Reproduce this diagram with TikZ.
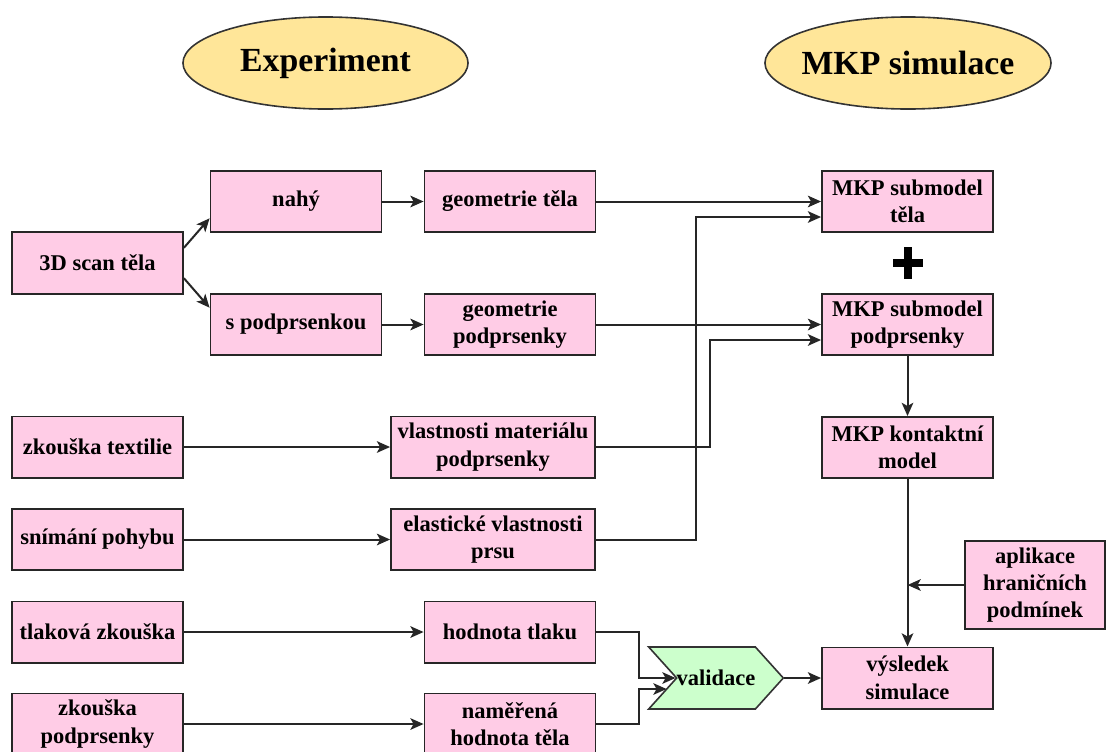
\documentclass[tikz,border=0pt]{standalone}
\usepackage{fontspec}
\setmainfont{Liberation Serif}
\usetikzlibrary{shapes.geometric,shapes.symbols,arrows.meta,calc}
\definecolor{boxpink}{HTML}{FFCCE6}
\definecolor{ovalyellow}{HTML}{FFE699}
\definecolor{valgreen}{HTML}{CCFFCC}

\tikzset{
  stepbox/.style={draw=black!85, line width=0.045cm, fill=boxpink, align=center,
    minimum width=4.275cm, minimum height=1.53cm, inner sep=1pt,
    font=\bfseries\fontsize{16}{19.5}\selectfont},
  widebox/.style={stepbox, minimum width=5.1cm},
  headoval/.style={ellipse, draw=black!80, line width=0.04cm, fill=ovalyellow,
    minimum width=7.125cm, minimum height=2.3cm, inner xsep=-0.2cm, inner ysep=0pt,
    font=\bfseries\fontsize{24}{28}\selectfont},
  arr/.style={line width=0.05cm, draw=black!85,
    -{Stealth[length=0.33cm,width=0.29cm,inset=0.08cm]}}
}

\begin{document}
\begin{tikzpicture}[x=0.025cm, y=-0.025cm]
\useasboundingbox (0,0) rectangle (1108,751);

% headings
\node[headoval] (exper) at (325.5,63) {Experiment};
\node[headoval, minimum width=7.15cm] (mkpsim) at (908,63) {MKP simulace};

% experiment side
\node[stepbox] (scan) at (97.5,263) {3D scan těla};
\node[stepbox] (nahy) at (296,201.5) {nahý};
\node[stepbox] (spodpr) at (296,324.5) {s podprsenkou};
\node[stepbox] (geomtela) at (510,201.5) {geometrie těla};
\node[stepbox] (geompodpr) at (510,324.5) {geometrie\\podprsenky};

\node[stepbox] (textil) at (97.5,447) {zkouška textilie};
\node[stepbox] (pohyb) at (97.5,539.5) {snímání pohybu};
\node[stepbox] (tlak) at (97.5,632) {tlaková zkouška};
\node[stepbox] (zkpodpr) at (97.5,724) {zkouška\\podprsenky};

\node[widebox] (vlastmat) at (493,447) {vlastnosti materiálu\\podprsenky};
\node[widebox] (elast) at (493,539.5) {elastické vlastnosti\\prsu};
\node[stepbox] (hodtlak) at (510,632) {hodnota tlaku};
\node[stepbox] (namer) at (510,724) {naměřená\\hodnota těla};

% simulation side
\node[stepbox] (subtela) at (907.5,201.5) {MKP submodel\\těla};
\node[stepbox] (subpodpr) at (907.5,324.5) {MKP submodel\\podprsenky};
\node[stepbox] (kontakt) at (907.5,447.5) {MKP kontaktní\\model};
\node[stepbox] (vysledek) at (907.5,678) {výsledek\\simulace};
\node[stepbox, minimum width=3.5cm, minimum height=2.2cm] (aplikace) at (1035,585)
  {aplikace\\hraničních\\podmínek};

\node[signal, signal to=east, signal from=west, signal pointer angle=96,
  draw=black!80, line width=0.04cm, fill=valgreen, minimum width=3.0cm,
  minimum height=1.55cm, inner sep=0pt,
  font=\bfseries\fontsize{16}{19.5}\selectfont] (validace) at (716,678) {validace};

% plus
\draw[line width=0.2cm] (893,263) -- (923,263) (908,247) -- (908,279);

% connectors
\draw[arr] (scan.10) -- (nahy.191);
\draw[arr] (scan.-10) -- (spodpr.169);
\draw[arr] (nahy) -- (geomtela);
\draw[arr] (spodpr) -- (geompodpr);
\draw[arr] (geomtela) -- (subtela);
\draw[arr] (geompodpr) -- (subpodpr);
\draw[arr] (elast.east) -- ++(100,0) |- ($(subtela.west)+(0,15.5)$);
\draw[arr] (vlastmat.east) -- ++(114,0) |- ($(subpodpr.west)+(0,15.5)$);
\draw[arr] (textil) -- (vlastmat);
\draw[arr] (pohyb) -- (elast);
\draw[arr] (tlak) -- (hodtlak);
\draw[arr] (zkpodpr) -- (namer);
\draw[arr] (hodtlak.east) -- ++(43,0) |- (validace.west);
\draw[arr] (namer.east) -- ++(43,0) |- ($(validace.west)+(-9,11)$);
\draw[arr] (validace.east) -- (vysledek.west);
\draw[arr] (subpodpr) -- (kontakt);
\draw[arr] (kontakt) -- (vysledek);
\draw[arr] (aplikace.west) -- (aplikace.west -| kontakt.south);
\end{tikzpicture}
\end{document}
